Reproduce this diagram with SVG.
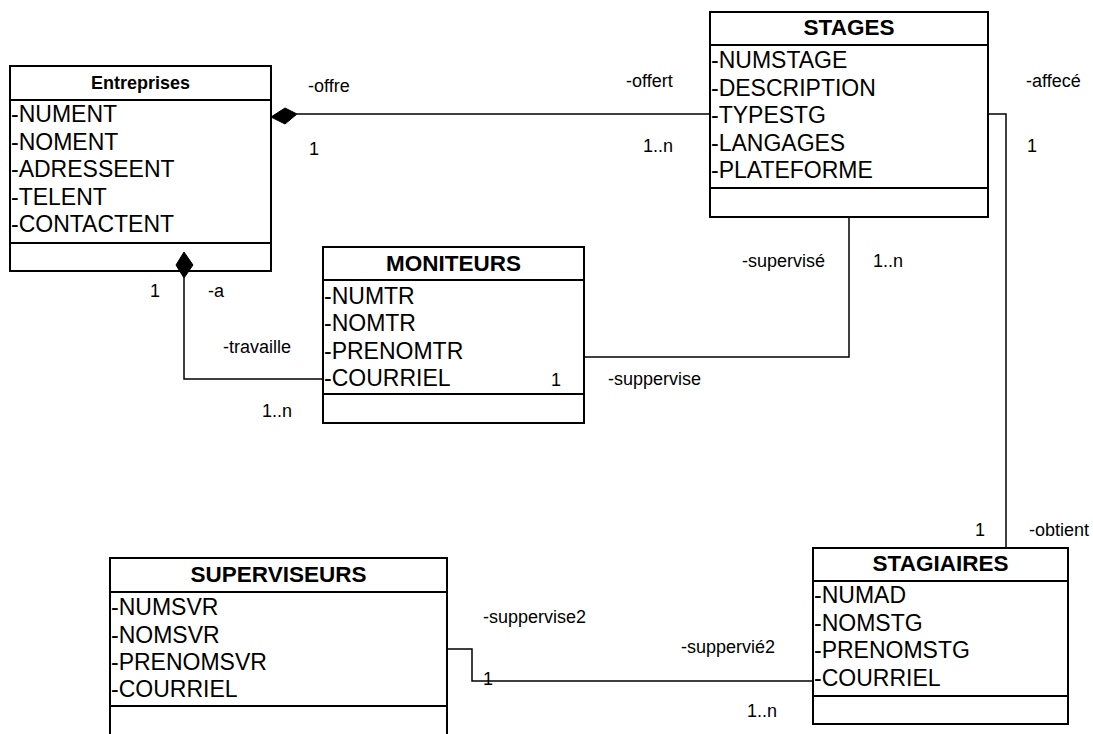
<svg xmlns="http://www.w3.org/2000/svg" width="1093" height="734" viewBox="0 0 1093 734">
<style>
.box{fill:#fff;stroke:#000;stroke-width:2}
.div{stroke:#000;stroke-width:2}
.title{font-family:"Liberation Sans",Arial,sans-serif;font-weight:bold;font-size:22.5px;text-anchor:middle;fill:#000}
.stitle{font-family:"Liberation Sans",Arial,sans-serif;font-weight:bold;font-size:18px;text-anchor:middle;fill:#000}
.attr{font-family:"Liberation Sans",Arial,sans-serif;font-size:23px;fill:#000}
.lbl{font-family:"Liberation Sans",Arial,sans-serif;font-size:18px;fill:#000}
.conn{fill:none;stroke:#000;stroke-width:1.5}
.dia{fill:#000;stroke:#000;stroke-width:1}
</style>
<rect width="1093" height="734" fill="#fff"/>
<g id="entreprises">
<rect class="box" x="10" y="66" width="261" height="205"/>
<line class="div" x1="10" y1="100" x2="271" y2="100"/>
<line class="div" x1="10" y1="243" x2="271" y2="243"/>
<text class="stitle" x="140.5" y="89">Entreprises</text>
<text class="attr" x="11" y="122">-NUMENT</text>
<text class="attr" x="11" y="150">-NOMENT</text>
<text class="attr" x="11" y="177">-ADRESSEENT</text>
<text class="attr" x="11" y="205">-TELENT</text>
<text class="attr" x="11" y="232">-CONTACTENT</text>
</g>
<g id="stages">
<rect class="box" x="710" y="12" width="278" height="205"/>
<line class="div" x1="710" y1="45" x2="988" y2="45"/>
<line class="div" x1="710" y1="188" x2="988" y2="188"/>
<text class="title" x="849" y="35">STAGES</text>
<text class="attr" x="711" y="68">-NUMSTAGE</text>
<text class="attr" x="711" y="95.5">-DESCRIPTION</text>
<text class="attr" x="711" y="123">-TYPESTG</text>
<text class="attr" x="711" y="150.5">-LANGAGES</text>
<text class="attr" x="711" y="178">-PLATEFORME</text>
</g>
<g id="moniteurs">
<rect class="box" x="323" y="247" width="261" height="176"/>
<line class="div" x1="323" y1="280" x2="584" y2="280"/>
<line class="div" x1="323" y1="394" x2="584" y2="394"/>
<text class="title" x="453.5" y="271">MONITEURS</text>
<text class="attr" x="324" y="303.5">-NUMTR</text>
<text class="attr" x="324" y="331">-NOMTR</text>
<text class="attr" x="324" y="358.5">-PRENOMTR</text>
<text class="attr" x="324" y="386">-COURRIEL</text>
</g>
<g id="superviseurs">
<rect class="box" x="110" y="558" width="337" height="200"/>
<line class="div" x1="110" y1="592" x2="447" y2="592"/>
<line class="div" x1="110" y1="706" x2="447" y2="706"/>
<text class="title" x="278.5" y="582">SUPERVISEURS</text>
<text class="attr" x="111" y="615">-NUMSVR</text>
<text class="attr" x="111" y="642.5">-NOMSVR</text>
<text class="attr" x="111" y="670">-PRENOMSVR</text>
<text class="attr" x="111" y="697">-COURRIEL</text>
</g>
<g id="stagiaires">
<rect class="box" x="813" y="548" width="255" height="176"/>
<line class="div" x1="813" y1="581" x2="1068" y2="581"/>
<line class="div" x1="813" y1="696" x2="1068" y2="696"/>
<text class="title" x="940.5" y="571">STAGIAIRES</text>
<text class="attr" x="814" y="603">-NUMAD</text>
<text class="attr" x="814" y="631">-NOMSTG</text>
<text class="attr" x="814" y="658">-PRENOMSTG</text>
<text class="attr" x="814" y="686">-COURRIEL</text>
</g>
<g id="connectors">
<polyline class="conn" points="297,114 710,114"/>
<polygon class="dia" points="271,117 285,108 297,114 285,124"/>
<polyline class="conn" points="184,278 184,379 323,379"/>
<polygon class="dia" points="184,252 193,265 184,278 176,265"/>
<polyline class="conn" points="988,114 1006,114 1006,548"/>
<polyline class="conn" points="849,216 849,357 584,357"/>
<polyline class="conn" points="447,649 472,649 472,681 813,681"/>
<text class="lbl" x="308" y="92">-offre</text>
<text class="lbl" x="309" y="155">1</text>
<text class="lbl" x="626" y="87">-offert</text>
<text class="lbl" x="643" y="152">1..n</text>
<text class="lbl" x="1026" y="87">-affecé</text>
<text class="lbl" x="1027" y="152">1</text>
<text class="lbl" x="742" y="267">-supervisé</text>
<text class="lbl" x="873" y="267">1..n</text>
<text class="lbl" x="608" y="385">-suppervise</text>
<text class="lbl" x="551" y="386">1</text>
<text class="lbl" x="150" y="297">1</text>
<text class="lbl" x="208" y="297">-a</text>
<text class="lbl" x="223" y="353">-travaille</text>
<text class="lbl" x="262" y="417">1..n</text>
<text class="lbl" x="975" y="536">1</text>
<text class="lbl" x="1029" y="536">-obtient</text>
<text class="lbl" x="483" y="623">-suppervise2</text>
<text class="lbl" x="483" y="685">1</text>
<text class="lbl" x="681" y="653">-suppervié2</text>
<text class="lbl" x="747" y="717">1..n</text>
</g>
</svg>
